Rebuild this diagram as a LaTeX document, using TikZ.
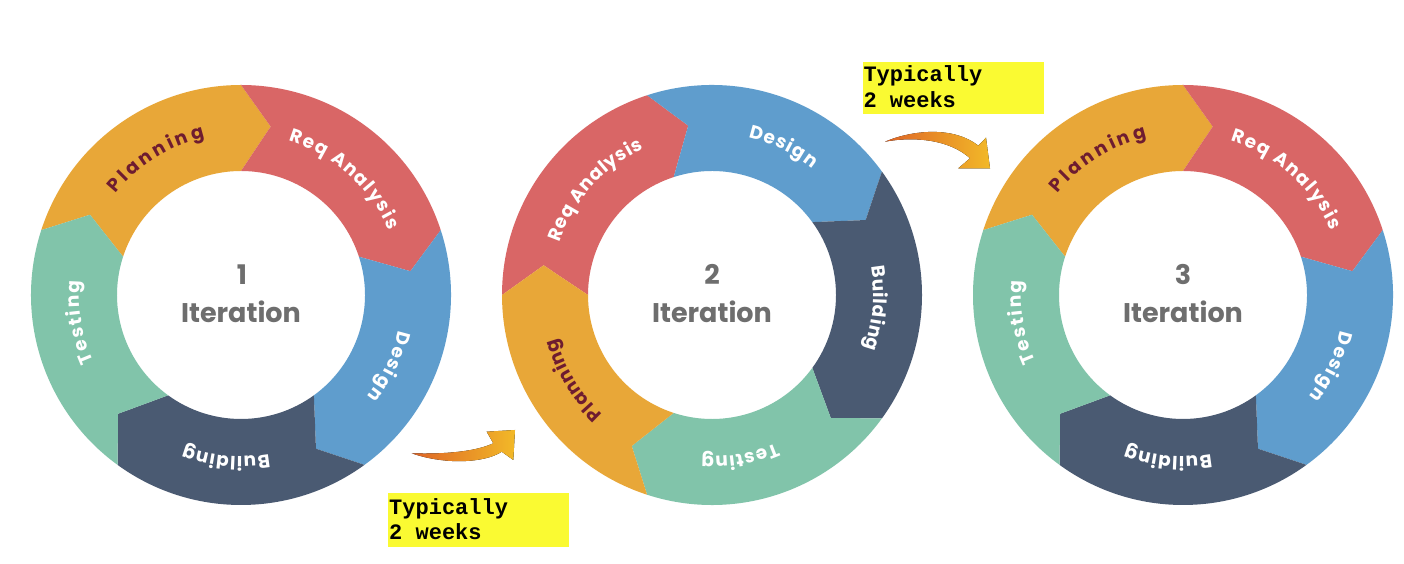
\documentclass[tikz,border=0pt]{standalone}
\usepackage{fontspec}
\usetikzlibrary{decorations.text}
\newfontfamily\popfont{Poppins}
\newfontfamily\monofont{Liberation Mono}
\definecolor{cplan}{RGB}{232,167,56}
\definecolor{creq}{RGB}{217,102,102}
\definecolor{cdes}{RGB}{95,157,205}
\definecolor{cbld}{RGB}{74,90,114}
\definecolor{ctst}{RGB}{129,196,170}
\definecolor{cplantxt}{RGB}{110,28,48}
\definecolor{cgray}{RGB}{110,110,110}
\definecolor{cyel}{RGB}{250,250,50}
\definecolor{carrA}{RGB}{222,100,38}
\definecolor{carrB}{RGB}{242,185,40}
\newcommand\lblfont{\popfont\bfseries\fontsize{18.5}{18.5}\selectfont}
\newcommand\cenfont{\popfont\bfseries\fontsize{27}{27}\selectfont}
\newcommand\boxfont{\monofont\bfseries\fontsize{22}{22}\selectfont}
\def\Ro{210pt}
\def\Ri{124pt}
\def\Rm{171pt}
\def\Rb{161.5pt}
\newcommand\ringseg[2]{%
  \fill[#2] (#1:\Ro) arc[start angle=#1, end angle=#1-72, radius=\Ro]
    -- (#1-82:\Rm) -- (#1-72:\Ri)
    arc[start angle=#1-72, end angle=#1, radius=\Ri]
    -- (#1-10:\Rm) -- cycle;}
\newcommand\seglabel[4]{%
  \path[decorate, decoration={text along path, text={|\lblfont|#3},
      text color=#4, text align=fit to path}]
    (#1:\Rb) arc[start angle=#1, end angle=#2, radius=\Rb];}
\tikzset{
  centxt/.style={anchor=base, inner sep=0pt, font=\cenfont, text=cgray},
  ybox/.style={fill=cyel, inner sep=0pt, anchor=north west},
  boxtxt/.style={anchor=base west, inner sep=0pt, font=\boxfont, text=black},
  swoosh/.style={left color=carrA, right color=carrB, draw=none}
}
\begin{document}
\begin{tikzpicture}[x=1pt,y=1pt]
\useasboundingbox (0,0) rectangle (1404,564);
\fill[white] (0,0) rectangle (1404,564);
% ---------- ring 1
\begin{scope}[shift={(241,269)}]
  \ringseg{162}{cplan}
  \ringseg{90}{creq}
  \ringseg{18}{cdes}
  \ringseg{-54}{cbld}
  \ringseg{-126}{ctst}
  \seglabel{141}{103}{Planning}{cplantxt}
  \seglabel{73}{23.5}{Req Analysis}{white}
  \seglabel{-12.7}{-38.8}{Design}{white}
  \seglabel{-80}{-110.5}{Building}{white}
  \seglabel{204.4}{175}{Testing}{white}
  \node[centxt] (num1) at (1,10) {1};
  \node[centxt] (it1) at (0,-28) {Iteration};
\end{scope}
% ---------- ring 2
\begin{scope}[shift={(712,269)}]
  \ringseg{180}{creq}
  \ringseg{108}{cdes}
  \ringseg{36}{cbld}
  \ringseg{-36}{ctst}
  \ringseg{-108}{cplan}
  \seglabel{161}{115}{Req Analysis}{white}
  \seglabel{77}{51.5}{Design}{white}
  \seglabel{10}{-19.5}{Building}{white}
  \seglabel{-66.5}{-93.7}{Testing}{white}
  \seglabel{-132.5}{-164.5}{Planning}{cplantxt}
  \node[centxt] (num2) at (0,10) {2};
  \node[centxt] (it2) at (0,-28) {Iteration};
\end{scope}
% ---------- ring 3
\begin{scope}[shift={(1183,269)}]
  \ringseg{162}{cplan}
  \ringseg{90}{creq}
  \ringseg{18}{cdes}
  \ringseg{-54}{cbld}
  \ringseg{-126}{ctst}
  \seglabel{141}{103}{Planning}{cplantxt}
  \seglabel{73}{23.5}{Req Analysis}{white}
  \seglabel{-12.7}{-38.8}{Design}{white}
  \seglabel{-80}{-110.5}{Building}{white}
  \seglabel{204.4}{175}{Testing}{white}
  \node[centxt] (num3) at (0,10) {3};
  \node[centxt] (it3) at (0,-28) {Iteration};
\end{scope}
% ---------- swoosh arrows
\fill[swoosh] (411.7,110.7)
  .. controls (450,109.5) and (478,113.5) .. (493.3,120.7)
  -- (486.7,132.3) -- (515,134) -- (513.3,104) -- (501.7,112.3)
  .. controls (485,101) and (445,99) .. (411.7,110.7) -- cycle;
\fill[swoosh] (885,422.3)
  .. controls (915,435) and (955,437) .. (978.3,418.3)
  -- (986,426.3) -- (990,395.7) -- (958.3,395.7) -- (970,405.7)
  .. controls (950,424) and (915,428) .. (885,422.3) -- cycle;
% ---------- yellow boxes
\node[ybox, minimum width=181pt, minimum height=54pt] (box1) at (388,71) {};
\node[boxtxt] (box1a) at (389,49) {Typically};
\node[boxtxt] (box1b) at (389,24.7) {2 weeks};
\node[ybox, minimum width=180.6pt, minimum height=52.6pt] (box2) at (862.7,502.3) {};
\node[boxtxt] (box2a) at (863.3,482.3) {Typically};
\node[boxtxt] (box2b) at (863.3,456.7) {2 weeks};
\end{tikzpicture}
\end{document}
